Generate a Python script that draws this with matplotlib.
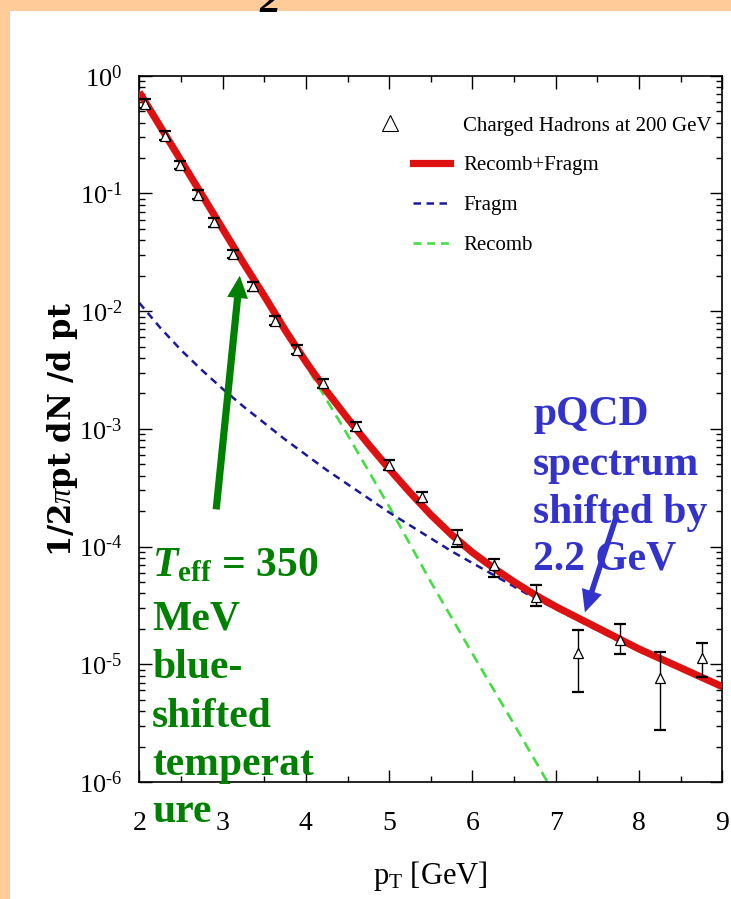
import numpy as np
import matplotlib
matplotlib.use('Agg')
import matplotlib.pyplot as plt
import matplotlib.ticker as mticker
from matplotlib.patches import Rectangle
from matplotlib.lines import Line2D
from matplotlib.legend_handler import HandlerLine2D

# Fonts: Times-like serif everywhere, custom mathtext so that math uses the same face
plt.rcParams['font.family'] = 'Liberation Serif'
plt.rcParams['mathtext.fontset'] = 'custom'
plt.rcParams['mathtext.rm'] = 'Liberation Serif'
plt.rcParams['mathtext.it'] = 'Liberation Serif:italic'
plt.rcParams['mathtext.bf'] = 'Liberation Serif:bold'
plt.rcParams['mathtext.bfit'] = 'Liberation Serif:bold:italic'

# Charged hadron spectrum at 200 GeV (measured points)
data_pt = [2.07, 2.31, 2.49, 2.70, 2.90, 3.13, 3.36, 3.63, 3.89, 4.20,
           4.60, 5.00, 5.39, 5.81, 6.26, 6.76, 7.27, 7.77, 8.25, 8.76]
data_y = [0.58, 0.31, 0.174, 0.097, 0.057, 0.0305, 0.0162, 0.0083, 0.0047, 0.00244,
          0.00105, 0.00049, 0.000263, 1.17e-4, 6.97e-5, 3.73e-5, 1.24e-5, 1.6e-5, 7.6e-6, 1.12e-5]
data_lo = [0.535, 0.285, 0.160, 0.089, 0.052, 0.0280, 0.0149, 0.0076, 0.0043, 0.00223,
           0.00096, 0.000445, 0.000240, 1.0e-4, 5.5e-5, 3.1e-5, 5.8e-6, 1.22e-5, 2.76e-6, 7.76e-6]
data_hi = [0.63, 0.337, 0.189, 0.106, 0.062, 0.0333, 0.0177, 0.0091, 0.0052, 0.00267,
           0.00115, 0.00054, 0.000290, 1.38e-4, 7.9e-5, 4.7e-5, 1.95e-5, 2.2e-5, 1.26e-5, 1.51e-5]

# Model curves, log10 of the yield
curve_pt = [2.00, 2.25, 2.50, 2.75, 3.00, 3.25, 3.50, 3.75, 4.00, 4.25,
            4.50, 4.75, 5.00, 5.25, 5.50, 5.75, 6.00, 6.25, 6.50, 6.75,
            7.00, 7.25, 7.50, 7.75, 8.00, 8.25, 8.50, 8.75, 9.00]
total_log = [-0.14, -0.43, -0.72, -1.01, -1.30, -1.59, -1.87, -2.16, -2.43, -2.68,
             -2.91, -3.13, -3.34, -3.54, -3.73, -3.90, -4.05, -4.18, -4.30, -4.41,
             -4.51, -4.60, -4.69, -4.78, -4.87, -4.95, -5.03, -5.11, -5.19]
fragm_log = [-1.93, -2.14, -2.33, -2.50, -2.66, -2.81, -2.95, -3.09, -3.22, -3.35,
             -3.47, -3.59, -3.71, -3.82, -3.93, -4.04, -4.14, -4.24, -4.34, -4.44,
             -4.53, -4.62, -4.71, -4.80, -4.88, -4.96, -5.04, -5.12, -5.20]
recomb_pt = [2.0, 2.5, 3.0, 3.5, 4.0, 4.5, 5.0, 5.5, 6.0, 6.5, 6.95]
recomb_log = [-0.15, -0.73, -1.31, -1.89, -2.46, -3.05, -3.66, -4.30, -4.91, -5.51, -6.06]

xticks = [2, 3, 4, 5, 6, 7, 8, 9]
yticks = [1e-6, 1e-5, 1e-4, 1e-3, 1e-2, 1e-1, 1e0]
ytick_labels = ['$10^{\u20106}$', '$10^{\u20105}$', '$10^{\u20104}$', '$10^{\u20103}$',
                '$10^{\u20102}$', '$10^{\u20101}$', '$10^{0}$']

legend_labels = ['Charged Hadrons at 200 GeV', 'Recomb+Fragm', 'Fragm', 'Recomb']

green_lines = [r'$\mathbfit{T}_{\mathbf{eff}}$ = 350', 'MeV', 'blue-', 'shifted', 'temperat', 'ure']
blue_lines = ['pQCD', 'spectrum', 'shifted by', '2.2 GeV']

W, H = 731, 899
fig = plt.figure(figsize=(W / 100, H / 100), dpi=100, facecolor='#ffcc99')
fig.patches.append(Rectangle((10 / W, 0), 1, 1 - 11 / H, transform=fig.transFigure,
                             facecolor='white', edgecolor='none', zorder=-10))

ax = fig.add_axes([139.3 / W, 1 - 782 / H, 583 / W, 706.3 / H])
ax.set_facecolor('white')
ax.set_yscale('log')
ax.set_xlim(2, 9)
ax.set_ylim(1e-6, 1)

red = '#dd1111'
navy = '#1a1a99'
lime = '#44dd44'

y = np.array(data_y)
yerr = [y - np.array(data_lo), np.array(data_hi) - y]

ax.plot(recomb_pt, 10.0 ** np.array(recomb_log), color=lime, lw=1.9,
        dashes=(4, 2.5), zorder=2)
ax.plot(curve_pt, 10.0 ** np.array(fragm_log), color=navy, lw=1.8,
        dashes=(3, 2.2), zorder=2)
ax.plot(curve_pt, 10.0 ** np.array(total_log), color=red, lw=5.2,
        solid_capstyle='butt', solid_joinstyle='round', zorder=3)
ax.errorbar(data_pt, y, yerr=yerr, fmt='none', ecolor='black', elinewidth=1.0,
            capsize=4.5, capthick=1.6, zorder=4)
ax.plot(data_pt, y, linestyle='none', marker='^', markersize=6.5,
        markerfacecolor='white', markeredgecolor='black', markeredgewidth=0.9, zorder=5)

# Legend without frame; the triangle sits left of the line handles
handles = [
    Line2D([], [], linestyle='none', marker='^', markersize=12,
           markerfacecolor='white', markeredgecolor='black', markeredgewidth=0.8),
    Line2D([], [], color=red, lw=5.2),
    Line2D([], [], color=navy, lw=1.8, dashes=(3, 2.2)),
    Line2D([], [], color=lime, lw=1.9, dashes=(3, 2.2)),
]
ax.legend(handles, legend_labels, loc='upper left', bbox_to_anchor=(0.47, 0.943),
          frameon=False, fontsize=15, handlelength=1.78, handletextpad=0.62,
          labelspacing=0.97, borderpad=0, borderaxespad=0,
          handler_map={handles[0]: HandlerLine2D(xpad=-4.0)})

# Axes styling
ax.set_xticks(xticks)
ax.xaxis.set_minor_locator(mticker.MultipleLocator(0.5))
ax.set_yticks(yticks)
ax.set_yticklabels(ytick_labels)
ax.yaxis.set_minor_locator(mticker.LogLocator(base=10, subs=np.arange(2, 10)))
ax.yaxis.set_minor_formatter(mticker.NullFormatter())
ax.tick_params(which='both', direction='in', top=True, right=True, width=1.0)
ax.tick_params(which='major', length=9)
ax.tick_params(which='minor', length=4.5)
ax.tick_params(axis='x', pad=21, labelsize=20)
ax.tick_params(axis='y', pad=12, labelsize=19)
for s in ax.spines.values():
    s.set_linewidth(1.2)

fig.text(430 / W, 1 - 876 / H, r'p$_\mathrm{T}$ [GeV]', fontsize=22,
         ha='center', va='center')
fig.text(62 / W, 1 - 429 / H, r'1/2$\pi$pt dN /d pt', family='DejaVu Serif',
         fontweight='bold', fontsize=22, rotation=90, ha='center', va='center')

# Cut-off title digit at the very top
fig.text(270 / W, 1 - 12 / H, '2', fontsize=30, fontweight='bold', fontstyle='italic',
         ha='center', va='baseline')

# Annotations
green = '#008000'
blue = '#3333cc'
green_base = [576, 630, 678, 727, 775, 822]
for line, yb in zip(green_lines, green_base):
    fig.text(152 / W, 1 - yb / H, line, color=green, fontsize=30, fontweight='bold',
             ha='left', va='baseline')
blue_base = [425, 475, 523, 570]
for line, yb in zip(blue_lines, blue_base):
    fig.text(533 / W, 1 - yb / H, line, color=blue, fontsize=30, fontweight='bold',
             ha='left', va='baseline')

ax.annotate('', xy=(3.21, 0.0211), xytext=(2.92, 1.96e-4),
            arrowprops=dict(arrowstyle='simple,head_length=0.8,head_width=0.75,tail_width=0.26',
                            mutation_scale=20, color=green, lw=0))
ax.annotate('', xy=(7.34, 2.62e-5), xytext=(7.74, 1.91e-4),
            arrowprops=dict(arrowstyle='simple,head_length=0.8,head_width=0.75,tail_width=0.2',
                            mutation_scale=20, color=blue, lw=0))

fig.savefig('out.png', dpi=100, facecolor=fig.get_facecolor())
